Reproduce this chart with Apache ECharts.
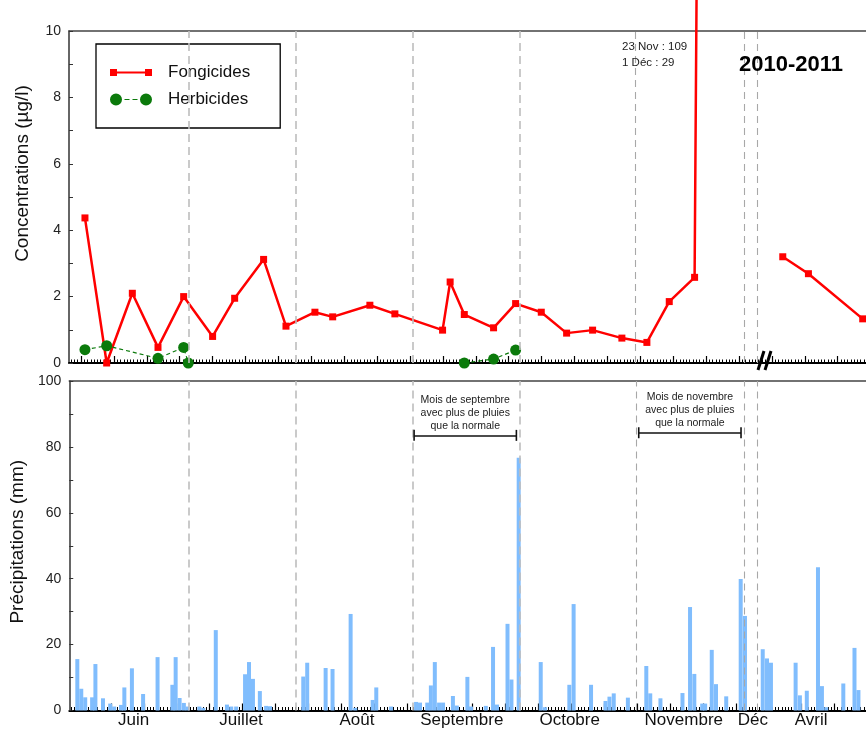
<!DOCTYPE html>
<html>
<head>
<meta charset="utf-8">
<title>Concentrations et précipitations 2010-2011</title>
<script src="https://cdn.jsdelivr.net/npm/echarts@6.0.0/dist/echarts.min.js"></script>
<style>
    html, body { margin: 0; padding: 0; background: #fff; }
    #main { width: 866px; height: 731px; }
</style>
</head>
<body>
<div id="main"></div>
<script>
// jours (axe x en jours depuis fin mai) et concentrations (µg/l)
var fongiDays = [11.2, 17.8, 25.6, 33.4, 41.2, 50.0, 56.7, 65.5, 72.3, 81.1, 86.5, 97.8, 105.4, 119.9, 122.2,
    126.5, 135.4, 142.1, 149.9, 157.6, 165.5, 174.4, 182.0, 188.8, 196.5, 204.0, 212.0, 216.0, 223.3, 231.1, 247.6];
var fongiValues = [4.37, 0.0, 2.1, 0.47, 2.0, 0.8, 1.95, 3.12, 1.11, 1.53, 1.39, 1.74, 1.48, 0.99, 2.44,
    1.46, 1.06, 1.79, 1.53, 0.9, 0.99, 0.75, 0.62, 1.85, 2.58, 109, 29, null, 3.2, 2.69, 1.33];

var herbDays = [11.2, 17.8, 33.4, 41.2, 42.6, 80.0, 126.5, 135.4, 142.1];
var herbValues = [0.4, 0.52, 0.14, 0.47, 0.0, null, 0.0, 0.12, 0.39];

// précipitations journalières (mm)
var rainDays = [8.8, 10.0, 11.2, 13.3, 14.3, 16.6, 18.8, 20.0, 22.1, 23.1, 25.4, 28.8, 33.2, 37.7, 38.7, 39.9, 41.2, 42.3,
    45.9, 47.1, 50.9, 54.3, 55.6, 57.1, 59.8, 61.0, 62.2, 64.3, 66.2, 67.4,
    77.5, 78.7, 84.3, 86.4, 91.9, 93.3, 98.6, 99.7, 104.2,
    111.8, 113.0, 115.2, 116.3, 117.5, 118.8, 120.0, 123.0, 124.2, 127.4, 128.5, 133.0, 135.2, 136.4, 139.6, 140.8, 143.0,
    149.7, 151.0, 158.4, 159.7, 165.0, 169.4, 170.6, 171.9, 176.2,
    181.8, 183.0, 186.1, 192.8, 195.1, 196.4, 198.8, 199.7, 201.7, 203.0, 206.1, 210.5, 211.8,
    217.2, 218.5, 219.7,
    227.2, 228.5, 230.6, 234.0, 235.2, 236.5, 241.7, 245.1, 246.3];
var rainMm = [15.6, 6.6, 4.0, 4.0, 14.1, 3.7, 2.1, 1.2, 1.7, 7.0, 12.8, 5.0, 16.2, 7.8, 16.2, 3.8, 2.3, 1.2,
    1.2, 0.8, 24.4, 1.8, 1.2, 1.2, 11.0, 14.7, 9.6, 5.9, 1.4, 1.3,
    10.3, 14.5, 12.9, 12.6, 29.3, 0.8, 3.2, 7.0, 1.2,
    2.6, 2.4, 2.4, 7.6, 14.7, 2.4, 2.4, 4.4, 1.5, 10.2, 1.2, 1.4, 19.3, 1.8, 26.3, 9.4, 76.7,
    14.7, 1.0, 7.8, 32.3, 7.8, 2.9, 4.2, 5.2, 3.9,
    13.5, 5.2, 3.7, 5.3, 31.4, 11.1, 2.1, 2.1, 18.4, 8.0, 4.3, 39.9, 28.7,
    18.6, 15.8, 14.5,
    14.5, 4.6, 6.0, 43.5, 7.4, 1.0, 8.2, 19.0, 6.2];

var monthLines = [42.8, 75.2, 110.8, 143.4, 178.6, 211.6, 215.6];
var monthNames = ['Juin', 'Juillet', 'Août', 'Septembre', 'Octobre', 'Novembre', 'Déc', 'Avril'];
var monthPos = [25.9, 58.6, 93.8, 125.7, 158.5, 193.2, 214.2, 231.9];

var concTicks = [0, 2, 4, 6, 8, 10];
var rainTicks = [0, 20, 40, 60, 80, 100];

var bracketText = ['Mois de septembre\navec plus de pluies\nque la normale',
    'Mois de novembre\navec plus de pluies\nque la normale'];
var bracketFrom = [111.2, 179.5];
var bracketTo = [142.3, 210.6];
var bracketLevel = [83.5, 84.3];

var breakDay = 217.9;

var font = '"Liberation Sans", Arial, sans-serif';
var xMin = 6.35, xMax = 248.6;

function range(a, b, step) {
    var r = [];
    for (var v = a; v <= b; v += step) r.push(v);
    return r;
}
function pairs(xs, ys) {
    return xs.map(function (x, i) { return [x, ys[i] == null ? '-' : ys[i]]; });
}

var dayTicks = range(7, 248, 1);
var topMajor = range(10, 240, 10);
var bottomMajor = range(9, 239, 10);

var dashed = monthLines.map(function (v, i) {
    return {
        xAxis: v,
        lineStyle: i < 4 ? { color: '#bdbdbd', width: 1.6, type: [8, 5] }
                         : { color: '#a8a8a8', width: 1.1, type: [7, 5] }
    };
});

function xAxisSet(grid, major, labels) {
    var base = { gridIndex: grid, type: 'value', min: xMin, max: xMax, splitLine: { show: false } };
    return [
        Object.assign({}, base, {
            position: 'bottom',
            axisLine: { onZero: false, lineStyle: { color: '#000', width: 1.8 } },
            axisTick: { inside: true, length: 7, customValues: major, lineStyle: { color: '#000', width: 1.2 } },
            axisLabel: labels ? {
                customValues: monthPos, margin: 1, fontSize: 17, color: '#111', fontFamily: font,
                formatter: function (v) { return monthNames[monthPos.indexOf(v)]; }
            } : { show: false }
        }),
        Object.assign({}, base, {
            position: 'bottom',
            axisLine: { show: false, onZero: false },
            axisTick: { inside: true, length: 3.5, customValues: dayTicks, lineStyle: { color: '#000', width: 1 } },
            axisLabel: { show: false }
        }),
        Object.assign({}, base, {
            position: 'top',
            axisLine: { onZero: false, lineStyle: { color: '#444', width: 1.5 } },
            axisTick: { show: false },
            axisLabel: { show: false }
        })
    ];
}

function yAxisDef(grid, ticks, name, pad, gap) {
    return {
        gridIndex: grid, type: 'value',
        min: ticks[0], max: ticks[ticks.length - 1], interval: ticks[1] - ticks[0],
        name: name, nameLocation: 'middle', nameGap: gap,
        nameTextStyle: { fontSize: 19, color: '#111', fontFamily: font, padding: [0, 0, 0, pad] },
        axisLine: { show: true, onZero: false, lineStyle: { color: '#333', width: 1.5 } },
        axisTick: { inside: true, length: 4, lineStyle: { color: '#333' } },
        minorTick: { show: true, splitNumber: 2, length: 4, lineStyle: { color: '#333' } },
        axisLabel: { fontSize: 14, color: '#222', margin: 8, fontFamily: font },
        splitLine: { show: false },
        minorSplitLine: { show: false }
    };
}

var chart = echarts.init(document.getElementById('main'));

var option = {
    animation: false,
    backgroundColor: '#fff',
    textStyle: { fontFamily: font },
    grid: [
        { left: 69, right: 0, top: 31, height: 332 },
        { left: 69, right: 0, top: 381, bottom: 20.5 }
    ],
    title: [
        { text: '2010-2011', left: 739, top: 54, padding: 0,
          textStyle: { fontSize: 22, fontWeight: 'bold', color: '#000', fontFamily: font } },
        { text: '23 Nov : 109\n1 Déc : 29', left: 622, top: 39, padding: 0,
          textStyle: { fontSize: 11.5, fontWeight: 'normal', lineHeight: 16, color: '#222', fontFamily: font } }
    ],
    legend: {
        orient: 'vertical', left: 96, top: 44,
        padding: [20, 30, 20, 14],
        itemGap: 10, itemWidth: 42, itemHeight: 12,
        borderColor: '#000', borderWidth: 1.3,
        selectedMode: false,
        textStyle: { fontSize: 17, color: '#111', fontFamily: font, padding: [0, 0, 0, 11] },
        data: [
            { name: 'Fongicides', icon: 'path://M0 0h7v7h-7z M35 0h7v7h-7z M7 2.5h28v2h-28z' },
            { name: 'Herbicides', icon: 'path://M0 6a6 6 0 1 0 12 0a6 6 0 1 0 -12 0z M30 6a6 6 0 1 0 12 0a6 6 0 1 0 -12 0z M14.5 5.4h5v1.2h-5z M22.5 5.4h5v1.2h-5z' }
        ]
    },
    xAxis: xAxisSet(0, topMajor, false).concat(xAxisSet(1, bottomMajor, true)),
    yAxis: [
        yAxisDef(0, concTicks, 'Concentrations (µg/l)', 47, 37),
        yAxisDef(1, rainTicks, 'Précipitations (mm)', 8, 37)
    ],
    series: [
        {
            name: 'Fongicides', type: 'line', xAxisIndex: 0, yAxisIndex: 0,
            data: pairs(fongiDays, fongiValues),
            clip: false,
            symbol: 'rect', symbolSize: 7,
            itemStyle: { color: '#ff0000' },
            lineStyle: { color: '#ff0000', width: 2.5 },
            markLine: {
                silent: true, symbol: ['none', 'none'],
                label: { show: false },
                data: dashed
            },
            z: 3
        },
        {
            name: 'Herbicides', type: 'line', xAxisIndex: 0, yAxisIndex: 0,
            data: pairs(herbDays, herbValues),
            symbol: 'circle', symbolSize: 11,
            itemStyle: { color: '#0b7a0b' },
            lineStyle: { color: '#0b7a0b', width: 1.2, type: [4, 3] },
            z: 4
        },
        {
            name: 'Précipitations', type: 'bar', xAxisIndex: 3, yAxisIndex: 1,
            data: pairs(rainDays, rainMm),
            barWidth: 4,
            itemStyle: { color: '#80bdfd' },
            markLine: {
                silent: true, symbol: ['none', 'none'],
                label: { show: false },
                data: dashed
            }
        },
        {
            name: 'normale', type: 'line', xAxisIndex: 3, yAxisIndex: 1,
            data: [],
            markLine: {
                silent: true,
                symbol: ['rect', 'rect'], symbolSize: [1.6, 11], symbolRotate: 0,
                lineStyle: { color: '#111', width: 1.6, type: 'solid' },
                label: {
                    show: true, position: 'insideMiddleTop', distance: 3,
                    fontSize: 10.5, lineHeight: 13, color: '#222', fontFamily: font
                },
                data: bracketText.map(function (t, i) {
                    return [
                        { coord: [bracketFrom[i], bracketLevel[i]], label: { formatter: t } },
                        { coord: [bracketTo[i], bracketLevel[i]] }
                    ];
                })
            }
        }
    ]
};

chart.setOption(option);

// coupure de l'axe (//) entre décembre et avril
var p = chart.convertToPixel({ xAxisIndex: 0, yAxisIndex: 0 }, [breakDay, 0]);
chart.setOption({
    graphic: [
        { type: 'line', shape: { x1: p[0] - 7, y1: p[1] + 7, x2: p[0] - 1, y2: p[1] - 12 },
          style: { stroke: '#000', lineWidth: 3 }, z: 100 },
        { type: 'line', shape: { x1: p[0], y1: p[1] + 7, x2: p[0] + 6, y2: p[1] - 12 },
          style: { stroke: '#000', lineWidth: 3 }, z: 100 }
    ]
});

window.addEventListener('resize', function () {
    chart.resize();
});
</script>
</body>
</html>
